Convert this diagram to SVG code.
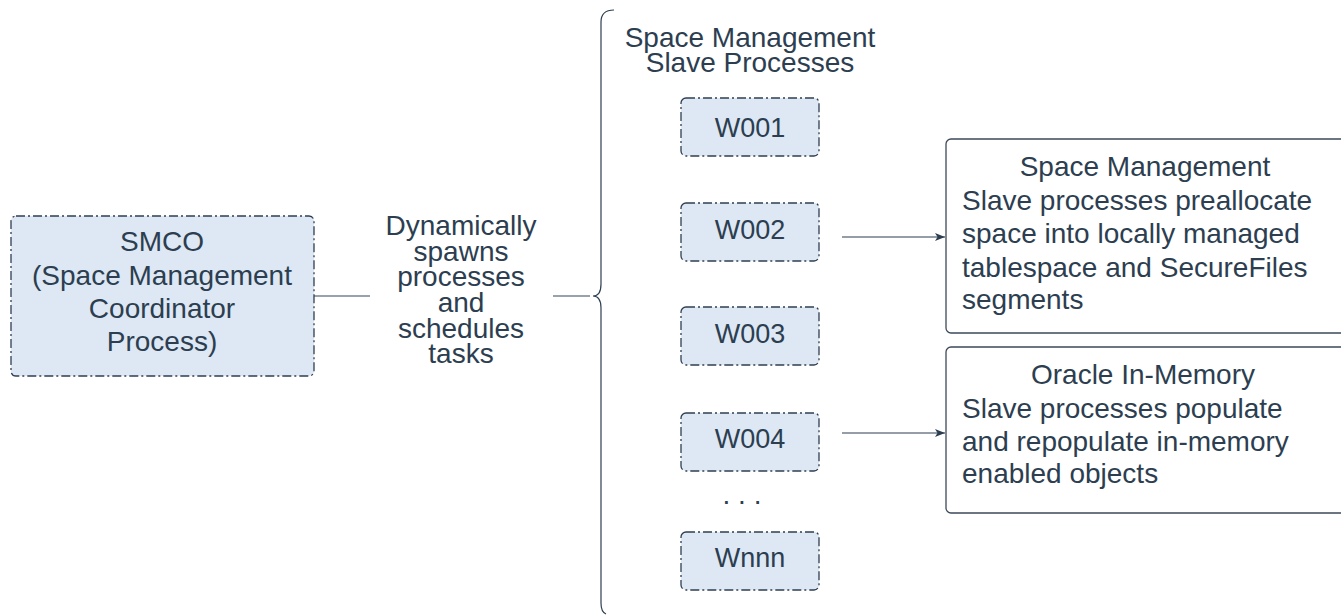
<svg xmlns="http://www.w3.org/2000/svg" width="1341" height="615" viewBox="0 0 1341 615">
<defs>
<style>
.t{font-family:"Liberation Sans",Arial,sans-serif;font-size:28px;fill:#2c3e50}
.s{font-size:27px}
.c{text-anchor:middle}
.proc{fill:#dde8f4;stroke:#2f3f52;stroke-width:1.3;stroke-dasharray:9 3 2 3}
.info{fill:#ffffff;stroke:#3c4a5a;stroke-width:1.3}
.ln{fill:none;stroke:#758391;stroke-width:1.3}
.ar{fill:none;stroke:#2c3e50;stroke-width:1.2}
</style>
<marker id="ah" viewBox="0 0 10 8" refX="10" refY="4" markerWidth="10" markerHeight="8" markerUnits="userSpaceOnUse" orient="auto">
<path d="M0,0 L10,4 L0,8 L2.5,4 Z" fill="#2c3e50"/>
</marker>
</defs>
<g id="connectors">
<line class="ln" x1="314" y1="296" x2="370" y2="296"/>
<line class="ln" x1="553" y1="296" x2="590" y2="296"/>
<path class="ar" d="M614,10 Q601,10 601,22 L601,284 Q601,296 593,296 Q601,296 601,308 L601,603 Q601,612 606,614"/>
<line class="ar" x1="842" y1="237" x2="945" y2="237" marker-end="url(#ah)"/>
<line class="ar" x1="842" y1="433" x2="945" y2="433" marker-end="url(#ah)"/>
</g>
<g id="smco">
<rect class="proc" x="11" y="216" width="303" height="160" rx="5"/>
<text class="t c" x="162" y="251">SMCO</text>
<text class="t c" x="162" y="285">(Space Management</text>
<text class="t c" x="162" y="318">Coordinator</text>
<text class="t c" x="162" y="351">Process)</text>
</g>
<g id="spawn-label">
<text class="t c" x="461" y="235">Dynamically</text>
<text class="t c" x="461" y="261">spawns</text>
<text class="t c" x="461" y="286">processes</text>
<text class="t c" x="461" y="312">and</text>
<text class="t c" x="461" y="338">schedules</text>
<text class="t c" x="461" y="363">tasks</text>
</g>
<g id="slave-title">
<text class="t c" x="750" y="47">Space Management</text>
<text class="t c" x="750" y="72">Slave Processes</text>
</g>
<g id="w001">
<rect class="proc" x="681" y="98" width="138" height="58" rx="5"/>
<text class="t s c" x="750" y="137">W001</text>
</g>
<g id="w002">
<rect class="proc" x="681" y="203" width="138" height="58" rx="5"/>
<text class="t s c" x="750" y="239">W002</text>
</g>
<g id="w003">
<rect class="proc" x="681" y="307" width="138" height="58" rx="5"/>
<text class="t s c" x="750" y="343">W003</text>
</g>
<g id="w004">
<rect class="proc" x="681" y="413" width="138" height="58" rx="5"/>
<text class="t s c" x="750" y="448">W004</text>
</g>
<g id="dots">
<text class="t c" x="742" y="504">. . .</text>
</g>
<g id="wnnn">
<rect class="proc" x="681" y="532" width="138" height="58" rx="5"/>
<text class="t s c" x="750" y="567">Wnnn</text>
</g>
<g id="space-mgmt">
<rect class="info" x="946" y="139" width="400" height="194" rx="5"/>
<text class="t c" x="1145" y="176">Space Management</text>
<text class="t" x="962" y="210">Slave processes preallocate</text>
<text class="t" x="962" y="243">space into locally managed</text>
<text class="t" x="962" y="277">tablespace and SecureFiles</text>
<text class="t" x="962" y="309">segments</text>
</g>
<g id="in-memory">
<rect class="info" x="946" y="347" width="400" height="166" rx="5"/>
<text class="t c" x="1143" y="384">Oracle In-Memory</text>
<text class="t" x="962" y="418">Slave processes populate</text>
<text class="t" x="962" y="451">and repopulate in-memory</text>
<text class="t" x="962" y="483">enabled objects</text>
</g>
</svg>
